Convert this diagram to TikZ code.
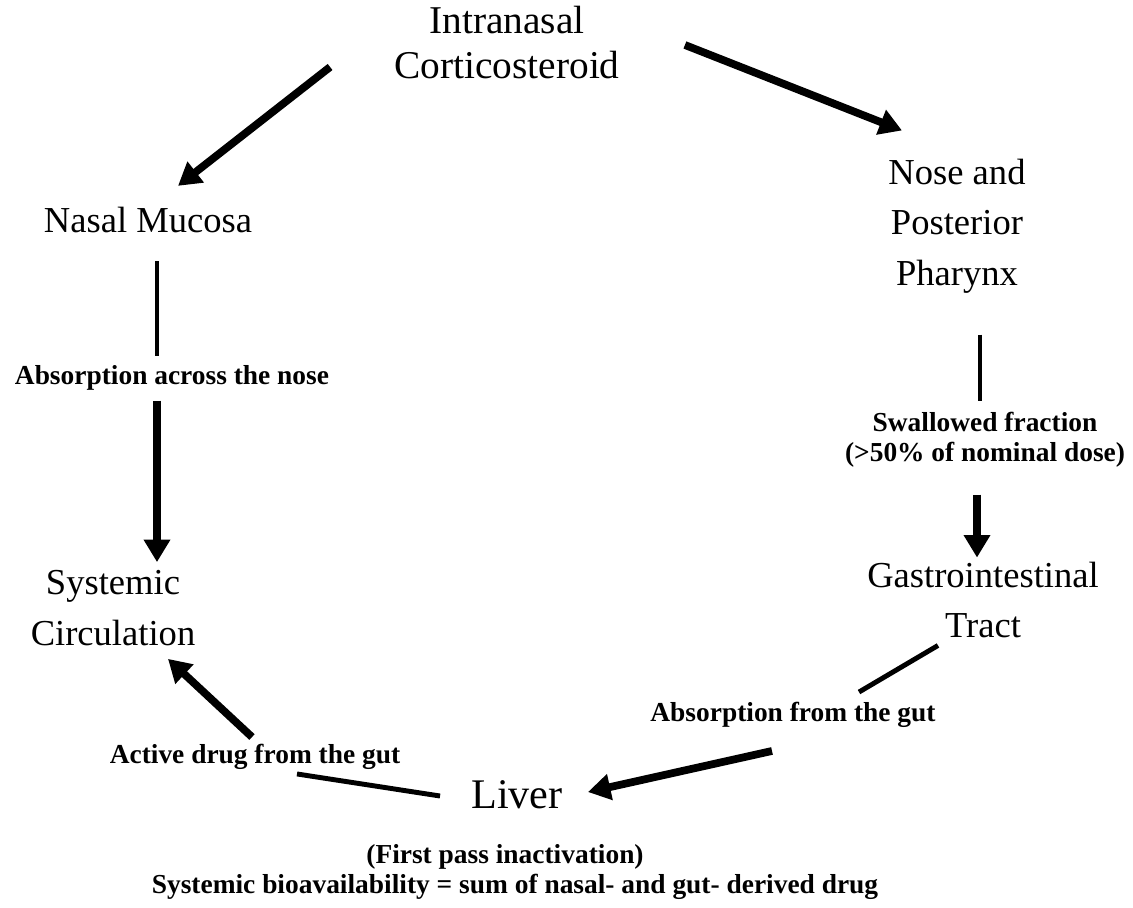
\documentclass[tikz,border=0pt]{standalone}
\usepackage{fontspec}
\setmainfont{Liberation Serif}
\usetikzlibrary{positioning,arrows.meta}

\begin{document}
\begin{tikzpicture}[
  x=0.025cm, y=-0.025cm,
  big/.style={font=\fontsize{26}{36}\selectfont, align=center, inner sep=0pt},
  lbl/.style={font=\fontsize{19.5}{21}\selectfont\bfseries, align=center, inner sep=0pt},
  arr/.style={line width=5.5pt, -{Triangle[length=16pt,width=18pt]}},
  ln/.style={line width=3.5pt}]
  \useasboundingbox (0,0) rectangle (1133,908);
  \node[big, font=\fontsize{28}{32}\selectfont] (IC) at (507,43) {Intranasal\\Corticosteroid};
  \node[big] (NM) at (148,220) {Nasal Mucosa};
  \node[big] (NP) at (957,226) {Nose and\\Posterior\\Pharynx};
  \node[big] (SC) at (113,608) {Systemic\\Circulation};
  \node[big] (GI) at (983,600) {Gastrointestinal\\Tract};
  \node[big, font=\fontsize{30}{36}\selectfont] (LV) at (517,795) {Liver};
  \node[lbl] (AN) at (172,378) {Absorption across the nose};
  \node[lbl] (SF) at (985,440) {Swallowed fraction\\(>50\% of nominal dose)};
  \node[lbl] (AG) at (793,715) {Absorption from the gut};
  \node[lbl] (AD) at (255,757) {Active drug from the gut};
  \node[lbl] (FP) at (505,857) {(First pass inactivation)};
  \node[lbl] (SB) at (515,887) {Systemic bioavailability = sum of nasal- and gut- derived drug};
  \draw[arr] ([shift={(-64,24)}]IC.west) -- ([shift={(30,-21)}]NM.north);
  \draw[arr] ([shift={(65,2)}]IC.east) -- ([shift={(-55,-28)}]NP.north);
  \draw[ln] ([shift={(9,28)}]NM.south) -- ([shift={(-15,-9)}]AN.north);
  \draw[arr] ([shift={(-15,10)}]AN.south) -- ([shift={(44,-8)}]SC.north);
  \draw[ln] ([shift={(23,41)}]NP.south) -- ([shift={(-5,-11)}]SF.north);
  \draw[arr] ([shift={(-8,27)}]SF.south) -- ([shift={(-6,-4)}]GI.north);
  \draw[ln] ([shift={(-45,7)}]GI.south) -- ([shift={(66,-10)}]AG.north);
  \draw[arr] ([shift={(-21,23)}]AG.south) -- ([shift={(25,-3)}]LV.east);
  \draw[ln] ([shift={(-31,1)}]LV.west) -- ([shift={(42,4)}]AD.south);
  \draw[arr] ([shift={(-3,-7)}]AD.north) -- ([shift={(55,13)}]SC.south);
\end{tikzpicture}
\end{document}
